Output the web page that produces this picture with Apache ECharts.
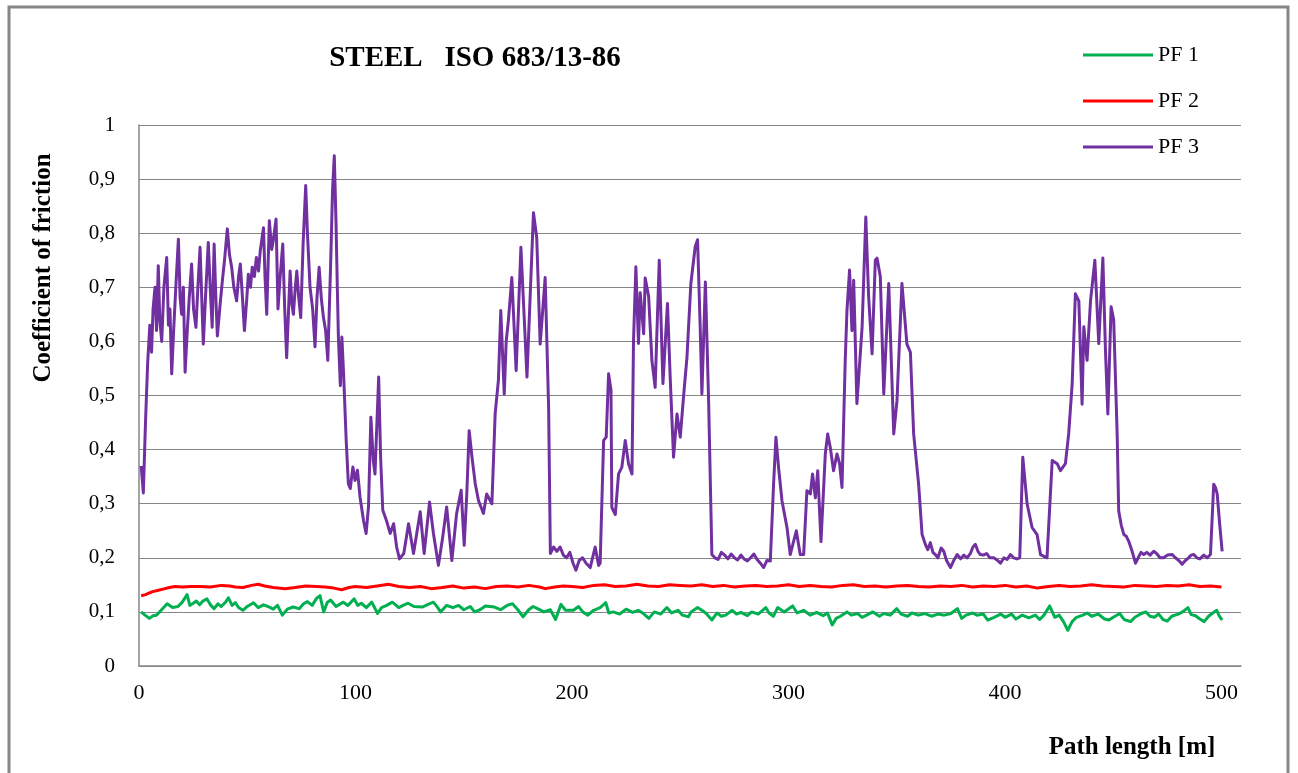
<!DOCTYPE html>
<html>
<head>
<meta charset="utf-8">
<script src="https://cdn.jsdelivr.net/npm/echarts@6/dist/echarts.min.js"></script>
<style>
html,body{margin:0;padding:0;background:#fff;}
#chart{width:1298px;height:773px;}
</style>
</head>
<body>
<div id="chart"></div>
<script>
// ---- data ----
var seriesNames = ['PF 1', 'PF 2', 'PF 3'];
var xTicks = [0, 100, 200, 300, 400, 500];
var yTicks = [0, 0.1, 0.2, 0.3, 0.4, 0.5, 0.6, 0.7, 0.8, 0.9, 1];

var pf1Path = [1,2.5,4.8,6.5,8.1,10,13,15.5,18,20,22.2,23.5,24.7,26.5,28,29.5,31.4,33,34.7,36.5,38,40,41.3,43,44.5,46,48,50,52.9,55,57.5,59.6,62,64,66.2,68.5,71.2,74,76,77.8,80,82,83.6,85.3,87,88.5,91,94.4,96.5,99.4,101,102.7,105,107.5,110.2,112,114.4,117,120,122,124.3,127,131,133.5,136,138,139.3,142,145,147.6,150,153,155,157.5,160,164.2,167,170,172.5,175,177.4,180,182,184.1,187,190,192.4,194.9,197,200.7,203,205,207.3,210,213,215.6,217,219,222,225,228,230.6,233,235.5,238,241,243.8,246,249,251,253.8,255,258,260,262,264.6,267,269,271,274,276,278,281,283,286,289.5,291,293,295,298,301.9,304,307,310,313,316,318,320.2,322,324,327,329,332,334,337,339,342,344,347,350,352,355,357,360,363,366,369,372,375,378,380,382,385,387,390,392,395,398,400,403,405,408,411,414,416,418,420.6,423,425,427,429,431,433,436,438,440,443,446,448,450,453,455,458,460,463,465,467,469,471,473,475,477,480,482,484.5,486,488,490,492,494,496,497.8,499,500.3];
var pf1Cof = [0.100,0.095,0.088,0.093,0.094,0.102,0.115,0.108,0.110,0.118,0.132,0.112,0.115,0.120,0.113,0.120,0.124,0.113,0.106,0.115,0.110,0.118,0.126,0.112,0.117,0.108,0.103,0.110,0.117,0.108,0.113,0.110,0.105,0.112,0.094,0.105,0.109,0.106,0.115,0.119,0.112,0.125,0.130,0.100,0.118,0.122,0.110,0.118,0.112,0.124,0.112,0.116,0.108,0.118,0.097,0.108,0.112,0.118,0.108,0.112,0.116,0.110,0.109,0.114,0.118,0.108,0.100,0.112,0.108,0.112,0.104,0.110,0.100,0.104,0.111,0.109,0.104,0.112,0.115,0.104,0.091,0.104,0.110,0.106,0.100,0.104,0.086,0.114,0.103,0.103,0.110,0.100,0.094,0.103,0.108,0.117,0.098,0.100,0.096,0.105,0.099,0.103,0.097,0.088,0.100,0.096,0.108,0.098,0.103,0.094,0.091,0.100,0.108,0.103,0.097,0.085,0.098,0.092,0.094,0.103,0.096,0.099,0.093,0.100,0.096,0.108,0.098,0.092,0.108,0.100,0.111,0.098,0.103,0.094,0.099,0.093,0.098,0.076,0.088,0.092,0.100,0.094,0.097,0.090,0.096,0.100,0.092,0.097,0.094,0.106,0.096,0.092,0.098,0.094,0.097,0.092,0.096,0.094,0.097,0.106,0.088,0.094,0.098,0.094,0.096,0.085,0.090,0.096,0.090,0.096,0.087,0.094,0.089,0.094,0.086,0.094,0.111,0.090,0.094,0.082,0.066,0.082,0.090,0.094,0.098,0.092,0.096,0.087,0.085,0.090,0.097,0.086,0.082,0.090,0.097,0.100,0.092,0.090,0.096,0.086,0.083,0.092,0.096,0.100,0.108,0.095,0.093,0.087,0.082,0.092,0.098,0.103,0.092,0.085];

var pf2Path = [1,3,5.9,9,12,14,16.6,20,24,28,33,38,42,44.4,48,52,55.1,58,62,67.5,72,77,82,86,90,93.6,97,100,105,110,115.2,120,125,130,135,140,145,150,155,160,165,170,175,180,185,187.6,192,196,200,205,210,215,220,225,230,235,240,245,250,255,260,265,270,275,280,285,290,295,300,305,310,315,320,325,330,335,340,345,350,355,360,365,370,375,380,385,390,395,400,405,410,415,420,425,430,435,440,445,450,455,460,465,470,475,480,485,490,495,500];
var pf2Cof = [0.130,0.132,0.137,0.140,0.143,0.145,0.147,0.146,0.147,0.147,0.146,0.149,0.148,0.146,0.145,0.149,0.151,0.148,0.145,0.143,0.145,0.148,0.147,0.146,0.144,0.141,0.145,0.147,0.145,0.148,0.151,0.147,0.145,0.147,0.143,0.145,0.148,0.144,0.146,0.143,0.147,0.148,0.146,0.149,0.146,0.143,0.146,0.148,0.147,0.145,0.149,0.150,0.147,0.148,0.151,0.148,0.147,0.150,0.149,0.148,0.150,0.147,0.149,0.146,0.148,0.149,0.147,0.148,0.150,0.147,0.149,0.147,0.146,0.149,0.150,0.147,0.148,0.146,0.148,0.149,0.147,0.146,0.148,0.147,0.149,0.146,0.148,0.147,0.149,0.146,0.148,0.144,0.147,0.149,0.147,0.148,0.150,0.148,0.147,0.146,0.149,0.148,0.147,0.149,0.148,0.150,0.147,0.148,0.146];

var pf3Path = [1,2,3,4,5,5.8,6.5,7.4,8.1,8.9,9.6,10.5,11.5,12.8,13.6,14.3,15.1,16,17,18.2,19,19.7,20.5,21.3,22.3,23.2,24.3,25.2,26.3,27.2,28.2,29.7,30.7,32,33,33.8,34.7,35.5,36.2,37.5,38.5,39.5,40.8,41.8,42.8,43.8,45.1,46,46.8,47.8,48.7,49.8,50.5,51.5,52.3,53.3,54.2,55.2,56,57.5,58.2,59,60.2,61.3,62,63.3,64.2,65.2,66.4,67.3,68.2,69.8,70.6,71.3,72.2,72.9,73.8,74.7,75.8,77,77.8,79,80.2,81.3,82.2,83.2,84.2,85.2,86.2,87.2,88.5,89.4,90.2,91,91.6,92.1,93,93.7,94.5,95.7,96.7,97.6,98.8,99.8,100.9,102.1,103.7,104.9,106,107.1,108.2,109,110.7,111.6,112.6,114.3,116,117.6,119,120.3,122.3,124.5,126.8,129.9,131.7,134.2,136,138.3,140.3,142.1,144.5,146.7,148.8,150.2,151.4,152.5,153.8,155.3,156.8,159.1,160.6,163,164.5,166,167.1,168.7,169.6,170.6,172.2,174.2,176.4,179.2,182.2,183.7,185.3,187.6,189.2,190,191.5,193,194.5,196,197.5,199,200.5,201.8,203.3,204.9,206.5,208.4,209.5,210.7,212.3,213,214.6,215.8,216.9,218,218.4,220,221.5,223,224.6,226.1,227.7,228.4,229.5,230.7,231.5,233.1,233.8,235.4,236.9,238.4,240.3,242,244.1,245.4,246.9,248.5,250,251.5,253.1,254.9,256.9,258,259.2,260,261.6,263.1,264.6,266,267.5,269,270.5,272,273.5,275,276.5,278,279.5,281,282.5,284,285.5,287,288.5,290,291.6,293.1,294.2,295.4,297,299.3,300.8,303.6,305.4,307,308.5,310.1,311.1,312.4,313.5,315,317,318.1,319.3,320.8,322.4,323.6,324.7,326.2,327,328.2,329.3,330.1,331.6,334,335.7,337,338.6,340.1,340.9,342.4,344,346.3,348.6,350.1,352.4,354.7,356.3,357.8,360.1,361.7,363.2,364.3,365.5,366.7,367.8,369,370.5,371.7,373,374.8,376.3,377.9,379.5,381,382.5,384,385.2,386.3,387.5,388.6,390,391.5,393,394.8,396.3,397.9,399.5,401,402.5,404,405.5,406.8,408.2,410.2,412.5,414.8,416.4,419.4,421.8,424.1,425.6,427.9,429.4,431,432.5,434.1,435.6,436.4,437.9,439.5,441.5,443.3,445.2,446.4,447.5,449,450.2,451.8,452.5,453.7,454.9,456,457.2,458.7,460.3,461.5,462.8,464.1,465.5,467,468.7,470,471.6,473.3,475,477.2,478.7,480.3,481.8,483.3,484.8,486,487.2,488.6,490,491.8,493.4,494.9,496.4,497.2,498,499.2,500.3];
var pf3Cof = [0.37,0.32,0.45,0.56,0.63,0.58,0.66,0.70,0.62,0.74,0.64,0.60,0.70,0.755,0.63,0.66,0.54,0.62,0.70,0.789,0.68,0.65,0.70,0.543,0.62,0.68,0.743,0.66,0.626,0.70,0.774,0.595,0.68,0.783,0.69,0.626,0.78,0.68,0.61,0.67,0.712,0.75,0.808,0.76,0.737,0.70,0.675,0.72,0.743,0.68,0.62,0.68,0.724,0.70,0.737,0.72,0.755,0.73,0.767,0.81,0.72,0.65,0.823,0.77,0.786,0.826,0.66,0.72,0.78,0.66,0.57,0.73,0.67,0.65,0.70,0.73,0.68,0.644,0.78,0.888,0.80,0.70,0.66,0.59,0.68,0.737,0.68,0.644,0.62,0.565,0.74,0.88,0.943,0.82,0.70,0.608,0.518,0.608,0.54,0.417,0.337,0.328,0.368,0.343,0.362,0.312,0.269,0.245,0.294,0.46,0.38,0.355,0.534,0.386,0.288,0.269,0.245,0.263,0.22,0.198,0.208,0.263,0.208,0.285,0.208,0.303,0.245,0.186,0.239,0.294,0.195,0.282,0.325,0.223,0.318,0.435,0.386,0.337,0.306,0.282,0.318,0.30,0.466,0.528,0.657,0.503,0.60,0.638,0.718,0.546,0.774,0.534,0.838,0.792,0.595,0.718,0.478,0.208,0.22,0.212,0.22,0.205,0.20,0.21,0.19,0.177,0.195,0.20,0.19,0.182,0.20,0.22,0.186,0.19,0.417,0.423,0.54,0.51,0.293,0.28,0.355,0.367,0.417,0.374,0.355,0.60,0.738,0.596,0.69,0.614,0.717,0.683,0.565,0.515,0.75,0.522,0.67,0.528,0.386,0.466,0.423,0.497,0.571,0.707,0.775,0.788,0.627,0.503,0.71,0.49,0.206,0.20,0.197,0.21,0.205,0.198,0.207,0.20,0.196,0.205,0.198,0.194,0.20,0.207,0.197,0.19,0.182,0.195,0.194,0.336,0.423,0.367,0.305,0.256,0.206,0.25,0.206,0.206,0.324,0.318,0.355,0.311,0.361,0.23,0.392,0.429,0.404,0.361,0.392,0.374,0.33,0.565,0.657,0.732,0.62,0.713,0.485,0.627,0.83,0.683,0.577,0.75,0.754,0.72,0.503,0.707,0.429,0.49,0.707,0.595,0.58,0.429,0.336,0.243,0.225,0.215,0.228,0.21,0.206,0.20,0.218,0.212,0.195,0.182,0.195,0.206,0.198,0.205,0.20,0.208,0.22,0.225,0.212,0.206,0.205,0.208,0.20,0.20,0.196,0.19,0.20,0.197,0.206,0.20,0.198,0.20,0.386,0.30,0.256,0.243,0.206,0.20,0.38,0.374,0.361,0.374,0.429,0.52,0.688,0.675,0.484,0.627,0.565,0.675,0.75,0.596,0.754,0.583,0.466,0.664,0.64,0.429,0.287,0.26,0.243,0.24,0.23,0.212,0.19,0.20,0.21,0.206,0.21,0.205,0.212,0.208,0.20,0.20,0.205,0.206,0.20,0.195,0.188,0.195,0.20,0.205,0.206,0.20,0.198,0.205,0.20,0.206,0.336,0.33,0.318,0.26,0.212];

var seriesColors = ['#00B050', '#FF0000', '#7030A0'];

function zip(xs, ys) {
  var out = [];
  for (var i = 0; i < xs.length; i++) out.push([xs[i], ys[i]]);
  return out;
}

var serif = "'Times New Roman', 'Liberation Serif', serif";
var chart = echarts.init(document.getElementById('chart'), null, {renderer: 'canvas'});

var paths = [pf1Path, pf2Path, pf3Path];
var cofs = [pf1Cof, pf2Cof, pf3Cof];
var series = seriesNames.map(function (n, i) {
  return {
    name: n,
    type: 'line',
    data: zip(paths[i], cofs[i]),
    showSymbol: false,
    symbol: 'none',
    color: seriesColors[i],
    lineStyle: {color: seriesColors[i], width: 3, join: 'round'},
    emphasis: {disabled: true},
    z: 2 + i
  };
});

chart.setOption({
  animation: false,
  backgroundColor: '#ffffff',
  title: {
    text: 'STEEL   ISO 683/13-86',
    left: 475,
    top: 44,
    textAlign: 'center',
    padding: 0,
    textStyle: {fontFamily: serif, fontWeight: 'bold', fontSize: 29, color: '#000'}
  },
  legend: {
    data: seriesNames,
    orient: 'vertical',
    left: 1083,
    top: 44,
    padding: 0,
    itemGap: 24,
    itemWidth: 70,
    itemHeight: 3,
    icon: 'rect',
    selectedMode: false,
    textStyle: {fontFamily: serif, fontSize: 22, color: '#000', lineHeight: 22}
  },
  grid: {left: 139, top: 125, right: 57, bottom: 107, containLabel: false},
  xAxis: {
    type: 'value',
    min: xTicks[0],
    max: 509,
    interval: 100,
    axisLine: {show: true, lineStyle: {color: '#868686', width: 1.5}},
    axisTick: {show: false},
    splitLine: {show: false},
    axisLabel: {
      showMaxLabel: false,
      margin: 16,
      fontFamily: serif, fontSize: 22, color: '#000',
      formatter: function (v) { return xTicks.indexOf(v) >= 0 ? String(v) : ''; }
    }
  },
  yAxis: {
    type: 'value',
    min: yTicks[0],
    max: yTicks[yTicks.length - 1],
    interval: 0.1,
    axisLine: {show: true, lineStyle: {color: '#868686', width: 1.5}},
    axisTick: {show: false},
    splitLine: {show: true, lineStyle: {color: '#868686', width: 1.2}},
    axisLabel: {
      margin: 24,
      fontFamily: serif, fontSize: 21, color: '#000',
      formatter: function (v) {
        var r = Math.round(v * 10) / 10;
        if (r === 0) return '0';
        if (r === 1) return '1';
        return r.toFixed(1).replace('.', ',');
      }
    }
  },
  graphic: [
    {
      type: 'rect',
      silent: true,
      shape: {x: 9, y: 7, width: 1279, height: 820},
      style: {fill: 'none', stroke: '#868686', lineWidth: 3},
      z: 100
    },
    {
      type: 'text',
      silent: true,
      x: 44, y: 268,
      rotation: Math.PI / 2,
      style: {
        text: 'Coefficient of friction',
        font: 'bold 25px ' + serif,
        fill: '#000',
        textAlign: 'center',
        textVerticalAlign: 'middle'
      }
    },
    {
      type: 'text',
      silent: true,
      x: 1132, y: 748,
      style: {
        text: 'Path length [m]',
        font: 'bold 25px ' + serif,
        fill: '#000',
        textAlign: 'center',
        textVerticalAlign: 'middle'
      }
    }
  ],
  series: series
});
</script>
</body>
</html>
